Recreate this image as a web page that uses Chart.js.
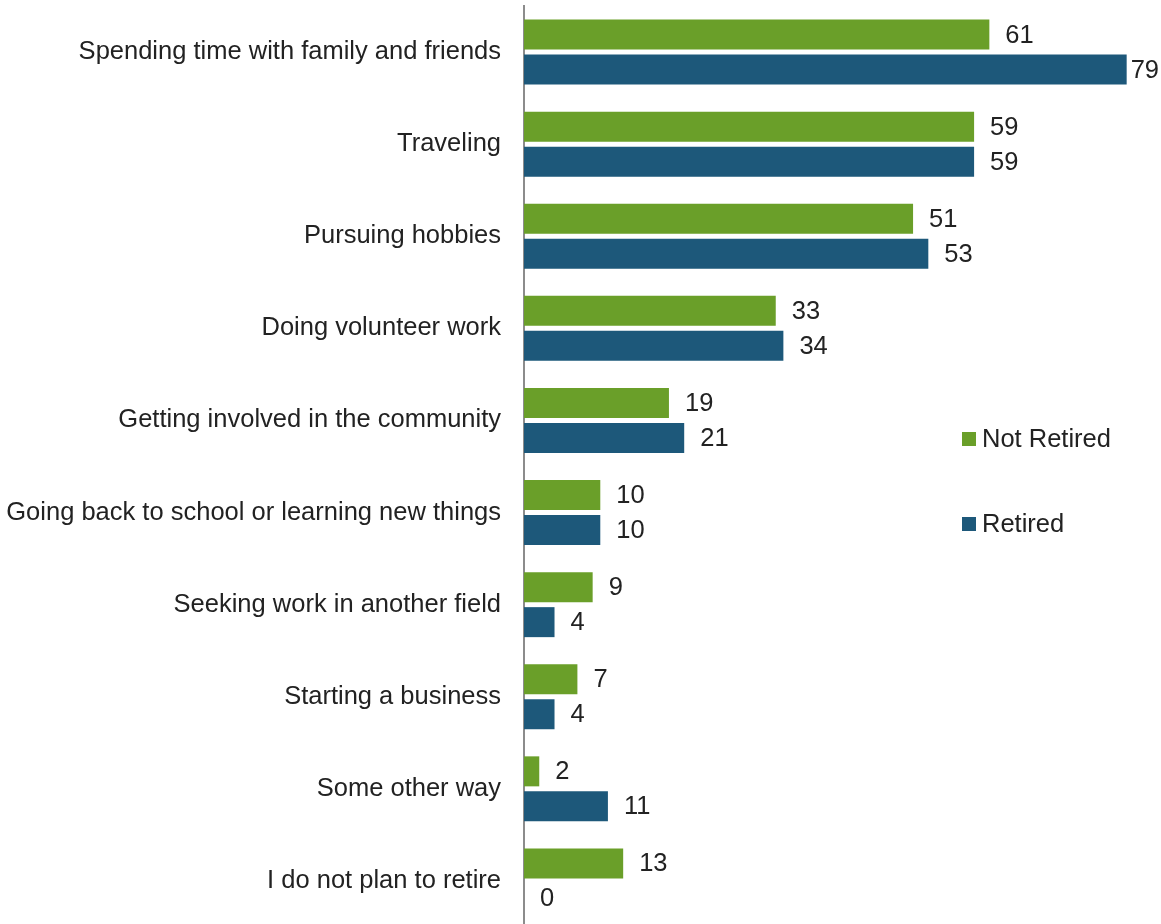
<!DOCTYPE html>
<html>
<head>
<meta charset="utf-8">
<script src="https://cdn.jsdelivr.net/npm/chart.js@4/dist/chart.umd.min.js"></script>
<style>
  html, body { margin: 0; padding: 0; background: #fff; overflow: hidden; }
  #wrap { position: relative; width: 1161px; height: 927px; }
</style>
</head>
<body>
<div id="wrap"><canvas id="c"></canvas></div>
<script>
// Retirement plans: share of respondents (%)
const categories = [
  'Spending time with family and friends',
  'Traveling',
  'Pursuing hobbies',
  'Doing volunteer work',
  'Getting involved in the community',
  'Going back to school or learning new things',
  'Seeking work in another field',
  'Starting a business',
  'Some other way',
  'I do not plan to retire'
];
const notRetired = [61, 59, 51, 33, 19, 10, 9, 7, 2, 13];
const retired    = [79, 59, 53, 34, 21, 10, 4, 4, 11, 0];
const seriesNames = ['Not Retired', 'Retired'];

const GREEN = '#6a9f29';
const BLUE = '#1d587a';
const TEXT = '#222222';
const FONT = '"Liberation Sans", Arial, sans-serif';

// Value labels at the end of each bar, kept inside the canvas
const valueLabels = {
  id: 'valueLabels',
  afterDatasetsDraw(chart) {
    const ctx = chart.ctx;
    ctx.save();
    ctx.font = '25.5px ' + FONT;
    ctx.fillStyle = TEXT;
    ctx.textAlign = 'left';
    ctx.textBaseline = 'middle';
    chart.data.datasets.forEach((ds, i) => {
      chart.getDatasetMeta(i).data.forEach((bar, j) => {
        const txt = String(ds.data[j]);
        const w = ctx.measureText(txt).width;
        const x = Math.min(bar.x + 16, chart.width - w - 2);
        ctx.fillText(txt, x, bar.y + 1);
      });
    });
    ctx.restore();
  }
};

// Vertical legend placed inside the plot on the right
const sideLegend = {
  id: 'sideLegend',
  afterDraw(chart) {
    const ctx = chart.ctx;
    ctx.save();
    ctx.font = '25.5px ' + FONT;
    ctx.textAlign = 'left';
    ctx.textBaseline = 'middle';
    const x = 962, y0 = 439, step = 85, box = 14;
    chart.data.datasets.forEach((ds, i) => {
      const y = y0 + i * step;
      ctx.fillStyle = ds.backgroundColor;
      ctx.fillRect(x, y - box / 2, box, box);
      ctx.fillStyle = TEXT;
      ctx.fillText(ds.label, x + 20, y + 1);
    });
    ctx.restore();
  }
};

new Chart(document.getElementById('c'), {
  type: 'bar',
  data: {
    labels: categories,
    datasets: [
      { label: seriesNames[0], data: notRetired, backgroundColor: GREEN },
      { label: seriesNames[1], data: retired, backgroundColor: BLUE }
    ]
  },
  options: {
    indexAxis: 'y',
    responsive: true,
    maintainAspectRatio: false,
    animation: false,
    categoryPercentage: 0.76,
    barPercentage: 0.857,
    layout: { padding: { top: 6, bottom: 0, left: 0, right: 0 } },
    plugins: {
      legend: { display: false },
      tooltip: { enabled: false }
    },
    scales: {
      x: {
        display: false,
        min: 0,
        max: 83.5,
        grid: { display: false }
      },
      y: {
        afterFit(scale) {
          scale.width = 524;
          scale.paddingTop = 0;
          scale.paddingBottom = 0;
        },
        grid: { display: false, drawTicks: false },
        border: { display: true, color: '#8c8c8c', width: 2 },
        ticks: {
          padding: 23,
          color: TEXT,
          font: { family: FONT, size: 25.5 }
        }
      }
    }
  },
  plugins: [valueLabels, sideLegend]
});
</script>
</body>
</html>
